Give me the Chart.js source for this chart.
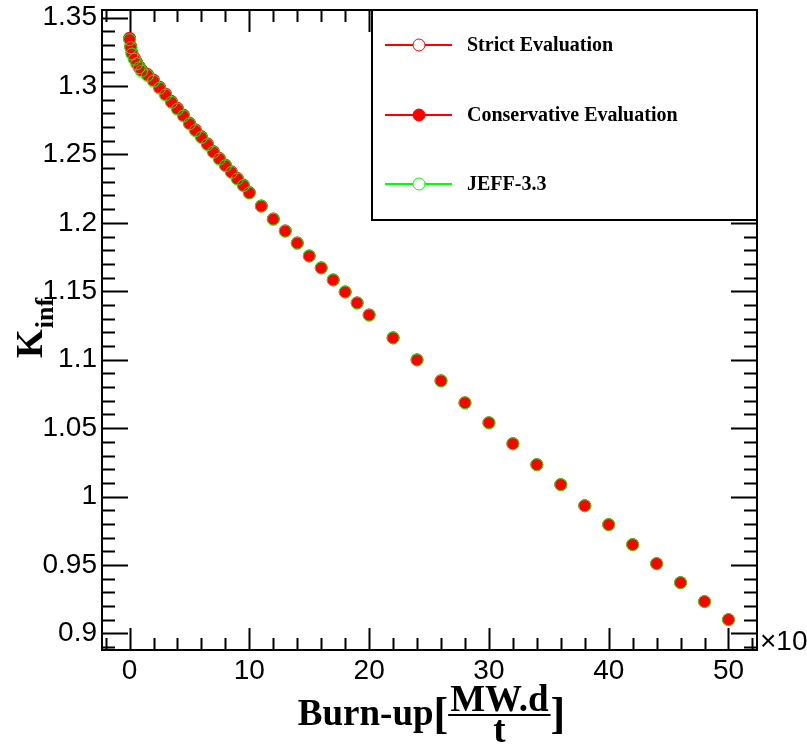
<!DOCTYPE html>
<html>
<head>
<meta charset="utf-8">
<script src="https://cdn.jsdelivr.net/npm/chart.js@4.4.1/dist/chart.umd.min.js"></script>
<style>
  html, body { margin: 0; padding: 0; background: #fff; }
  canvas { display: block; }
</style>
</head>
<body>
<canvas id="graph" width="807" height="744"></canvas>
<script>
// burn-up steps (x 10^3 MW.d/t)
const burnup = [0, 0.1, 0.2, 0.4, 0.6, 0.8, 1, 1.5, 2, 2.5, 3, 3.5, 4, 4.5, 5, 5.5, 6, 6.5, 7, 7.5, 8, 8.5, 9, 9.5, 10,
  11, 12, 13, 14, 15, 16, 17, 18, 19, 20,
  22, 24, 26, 28, 30, 32, 34, 36, 38, 40, 42, 44, 46, 48, 50];

const strictEval = [1.3348, 1.3289, 1.3243, 1.3204, 1.3171, 1.3142, 1.3117, 1.3084, 1.3043, 1.2991, 1.2941, 1.2887, 1.2837, 1.2787, 1.2729, 1.2679, 1.2629, 1.2577, 1.2521, 1.2471, 1.2422, 1.2373, 1.2325, 1.2276, 1.2221,
  1.2123, 1.2028, 1.1941, 1.1853, 1.1758, 1.1671, 1.1583, 1.1495, 1.1415, 1.1327,
  1.1160, 1.0999, 1.0846, 1.0685, 1.0539, 1.0386, 1.0233, 1.0087, 0.9933, 0.9795, 0.9649, 0.9510, 0.9371, 0.9233, 0.9101];

const conservativeEval = [1.3350, 1.3290, 1.3245, 1.3205, 1.3172, 1.3143, 1.3118, 1.3085, 1.3044, 1.2992, 1.2942, 1.2888, 1.2838, 1.2788, 1.2730, 1.2680, 1.2630, 1.2578, 1.2522, 1.2472, 1.2423, 1.2374, 1.2326, 1.2277, 1.2222,
  1.2124, 1.2029, 1.1942, 1.1854, 1.1759, 1.1672, 1.1584, 1.1496, 1.1416, 1.1328,
  1.1161, 1.1000, 1.0847, 1.0686, 1.0540, 1.0387, 1.0234, 1.0088, 0.9934, 0.9796, 0.9650, 0.9511, 0.9372, 0.9234, 0.9102];

const jeff33 = [1.3338, 1.3280, 1.3233, 1.3195, 1.3162, 1.3133, 1.3108, 1.3076, 1.3035, 1.2983, 1.2934, 1.2880, 1.2830, 1.2780, 1.2723, 1.2673, 1.2623, 1.2571, 1.2516, 1.2466, 1.2417, 1.2368, 1.2320, 1.2272, 1.2218,
  1.2121, 1.2026, 1.1939, 1.1851, 1.1757, 1.1670, 1.1582, 1.1494, 1.1414, 1.1326,
  1.1159, 1.0998, 1.0845, 1.0685, 1.0539, 1.0386, 1.0233, 1.0087, 0.9933, 0.9795, 0.9649, 0.9510, 0.9371, 0.9233, 0.9101];

const xTicks = [0, 10, 20, 30, 40, 50];
const yTicks = [0.9, 0.95, 1, 1.05, 1.1, 1.15, 1.2, 1.25, 1.3, 1.35];
const seriesNames = ["Strict Evaluation", "Conservative Evaluation", "JEFF-3.3"];

const RED = "#ff0000";
const GREEN = "#00ff00";
const SANS = "'Liberation Sans', Arial, sans-serif";
const SERIF = "'Liberation Serif', 'Times New Roman', serif";

const toPoints = ys => burnup.map((x, i) => ({ x, y: ys[i] }));

// ROOT-like frame, inside ticks on all 4 sides, titles and legend box
const rootFrame = {
  id: "rootFrame",
  afterDatasetsDraw(chart) {
    const { ctx, chartArea: a, scales: { x, y } } = chart;
    ctx.save();
    ctx.strokeStyle = "#000";
    ctx.lineWidth = 2;
    ctx.beginPath();
    // y ticks
    for (let i = 89; i <= 135; i++) {
      const v = i / 100;
      const py = Math.round(y.getPixelForValue(v)) + 0.5;
      const len = yTicks.some(t => Math.abs(t - v) < 1e-9) ? 26 : 13;
      ctx.moveTo(a.left, py); ctx.lineTo(a.left + len, py);
      ctx.moveTo(a.right, py); ctx.lineTo(a.right - len, py);
    }
    // x ticks
    for (let v = -2; v <= 52; v += 2) {
      const px = Math.round(x.getPixelForValue(v)) + 0.5;
      const len = xTicks.includes(v) ? 22 : 12;
      ctx.moveTo(px, a.bottom); ctx.lineTo(px, a.bottom - len);
      ctx.moveTo(px, a.top); ctx.lineTo(px, a.top + len);
    }
    ctx.stroke();
    ctx.strokeRect(a.left, a.top, a.right - a.left, a.bottom - a.top);

    // x10 exponent
    ctx.fillStyle = "#000";
    ctx.font = "28px " + SANS;
    ctx.textAlign = "left";
    ctx.textBaseline = "middle";
    ctx.fillText("\u00d710", a.right + 3, a.bottom - 8);

    // x title: Burn-up[MW.d / t]
    ctx.textBaseline = "alphabetic";
    ctx.font = "bold 37px " + SERIF;
    const w1 = ctx.measureText("Burn-up").width;
    const wNum = ctx.measureText("MW.d").width;
    ctx.font = "bold 44px " + SERIF;
    const wBr = ctx.measureText("[").width;
    const fracW = wNum + 4;
    const total = w1 + wBr * 2 + fracW;
    let cx = (a.left + a.right) / 2 - total / 2 + 2;
    ctx.font = "bold 37px " + SERIF;
    ctx.fillText("Burn-up", cx, 725);
    cx += w1;
    ctx.font = "bold 44px " + SERIF;
    ctx.fillText("[", cx, 728);
    cx += wBr;
    ctx.font = "bold 37px " + SERIF;
    ctx.textAlign = "center";
    ctx.fillText("MW.d", cx + fracW / 2, 711);
    ctx.fillText("t", cx + fracW / 2, 742);
    ctx.fillRect(cx, 714, fracW, 2);
    ctx.textAlign = "left";
    cx += fracW;
    ctx.font = "bold 44px " + SERIF;
    ctx.fillText("]", cx, 728);

    // y title: K_inf
    ctx.save();
    ctx.translate(42, 358);
    ctx.rotate(-Math.PI / 2);
    ctx.font = "bold 37px " + SERIF;
    ctx.fillText("K", 0, 0);
    const kw = ctx.measureText("K").width;
    ctx.font = "bold 26px " + SERIF;
    ctx.fillText("inf", kw + 1, 11);
    ctx.restore();

    // legend box
    const lx = 372, ly = 10, lw = 385, lh = 210;
    ctx.fillStyle = "#fff";
    ctx.fillRect(lx, ly, lw, lh);
    ctx.strokeStyle = "#000";
    ctx.lineWidth = 2;
    ctx.strokeRect(lx, ly, lw, lh);
    const rows = [45, 115, 184];
    const cols = [RED, RED, GREEN];
    seriesNames.forEach((name, i) => {
      const ry = rows[i];
      ctx.strokeStyle = cols[i];
      ctx.lineWidth = 2;
      ctx.beginPath();
      ctx.moveTo(385, ry); ctx.lineTo(452, ry);
      ctx.stroke();
      ctx.beginPath();
      ctx.arc(419, ry, 6, 0, 2 * Math.PI);
      ctx.fillStyle = i === 1 ? RED : "#fff";
      ctx.fill();
      ctx.lineWidth = 1;
      ctx.stroke();
      ctx.fillStyle = "#000";
      ctx.font = "bold 20px " + SERIF;
      ctx.textBaseline = "middle";
      ctx.fillText(name, 467, ry + 1);
    });
    ctx.restore();
  }
};

const fixAxis = size => s => {
  if (s.isHorizontal()) s.height = size; else s.width = size;
  s.paddingTop = 0; s.paddingBottom = 0; s.paddingLeft = 0; s.paddingRight = 0;
};

const ctx = document.getElementById("graph").getContext("2d");

const chart = new Chart(ctx, {
  type: "scatter",
  data: {
    datasets: [
      {
        label: seriesNames[0],
        data: toPoints(strictEval),
        showLine: false,
        pointRadius: 6,
        pointBackgroundColor: "rgba(0,0,0,0)",
        pointBorderColor: RED,
        pointBorderWidth: 1,
        order: 2
      },
      {
        label: seriesNames[1],
        data: toPoints(conservativeEval),
        showLine: false,
        pointRadius: 6,
        pointBackgroundColor: RED,
        pointBorderColor: RED,
        pointBorderWidth: 0,
        order: 1
      },
      {
        label: seriesNames[2],
        data: toPoints(jeff33),
        showLine: false,
        pointRadius: 6,
        pointBackgroundColor: "rgba(0,0,0,0)",
        pointBorderColor: GREEN,
        pointBorderWidth: 1,
        order: 0
      }
    ]
  },
  options: {
    responsive: false,
    animation: false,
    layout: { padding: { left: 0, top: 10, right: 50, bottom: 0 } },
    scales: {
      x: {
        type: "linear",
        min: -2.3,
        max: 52.38,
        grid: { display: false, drawTicks: false },
        border: { display: false },
        afterBuildTicks: s => { s.ticks = xTicks.map(v => ({ value: v })); },
        afterFit: fixAxis(94),
        ticks: {
          color: "#000",
          font: { family: SANS, size: 28 },
          padding: 4,
          maxRotation: 0,
          callback: v => String(v)
        }
      },
      y: {
        type: "linear",
        min: 0.8879,
        max: 1.3555,
        grid: { display: false, drawTicks: false },
        border: { display: false },
        afterBuildTicks: s => { s.ticks = yTicks.map(v => ({ value: v })); },
        afterFit: fixAxis(102),
        ticks: {
          color: "#000",
          font: { family: SANS, size: 28 },
          padding: 5,
          callback: v => String(v)
        }
      }
    },
    plugins: {
      legend: { display: false },
      tooltip: { enabled: false }
    }
  },
  plugins: [rootFrame]
});
</script>
</body>
</html>
